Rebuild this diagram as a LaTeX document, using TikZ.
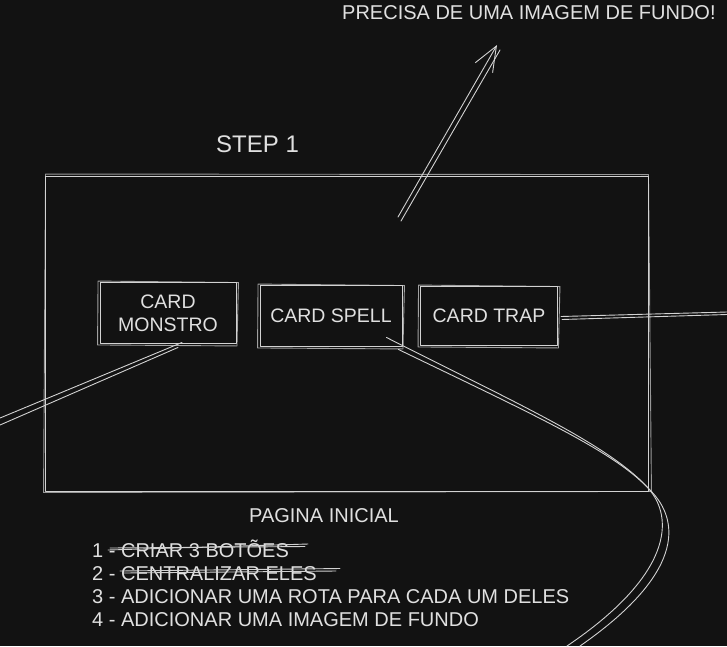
\documentclass[tikz,border=0pt]{standalone}
\usepackage{fontspec}
\setmainfont{Liberation Sans}
\usetikzlibrary{arrows.meta}
\definecolor{bg}{HTML}{121212}
\definecolor{ink}{HTML}{D2D2D2}
\definecolor{txt}{HTML}{E0E0E0}
\newcommand\sketchover[1]{%
  \draw[stroke,opacity=0.75] ([shift={(-1.5,-1)}]#1.north west) -- ([shift={(2,0.5)}]#1.north east)
    -- ([shift={(0.5,2)}]#1.south east) -- ([shift={(-2,1)}]#1.south west) -- cycle;}
\begin{document}
\begin{tikzpicture}[x=1pt,y=-1pt,
  every node/.style={text=txt,font=\fontsize{19.5}{23}\selectfont,inner sep=0pt},
  stroke/.style={draw=ink,line width=0.9pt,line cap=round,line join=round},
  cardbox/.style={stroke,rectangle,align=center},
  txtleft/.style={anchor=base west},
  bigtxt/.style={font=\fontsize{20}{23}\selectfont},
]
\fill[bg] (0,0) rectangle (727,646);
\useasboundingbox (0,0) rectangle (727,646);

% frame
\node[stroke,minimum width=603pt,minimum height=315pt] (frame) at (346.5,333.5) {};
\draw[stroke,opacity=0.7] ([shift={(1,-1.5)}]frame.north west) -- ([shift={(0,-1)}]frame.north east)
  -- ([shift={(3,0)}]frame.south east) -- ([shift={(-1,1)}]frame.south west) -- cycle;

% cards
\node[cardbox,minimum width=136pt,minimum height=61pt] (mon) at (168,313) {CARD\\MONSTRO};
\node[cardbox,minimum width=142pt,minimum height=61pt] (spell) at (331,316) {CARD SPELL};
\node[cardbox,minimum width=137pt,minimum height=59pt] (trap) at (489,316) {CARD TRAP};
\sketchover{mon}
\sketchover{spell}
\sketchover{trap}

% texts
\node[txtleft,bigtxt] (precisa) at (342,19) {PRECISA DE UMA IMAGEM DE FUNDO!};
\node[txtleft,font=\fontsize{24}{28}\selectfont] (step) at (216,152) {STEP 1};
\node[anchor=base,bigtxt] (pagina) at (324,522) {PAGINA INICIAL};
\node[txtleft,bigtxt] (l1) at (92,557) {1 - CRIAR 3 BOTÕES};
\node[txtleft,bigtxt] (l2) at (92,580) {2 - CENTRALIZAR ELES};
\node[txtleft,bigtxt] (l3) at (92,603) {3 - ADICIONAR UMA ROTA PARA CADA UM DELES};
\node[txtleft,bigtxt] (l4) at (92,626) {4 - ADICIONAR UMA IMAGEM DE FUNDO};

% strike-throughs
\draw[stroke] (108,550) -- (308,544);
\draw[stroke] (110,548) -- (305,546.5);
\draw[stroke] (120,571) -- (340,568.5);
\draw[stroke] (124,573) -- (336,571);

% arrow to the note
\coordinate (upTail) at (398,217);
\coordinate (upTailB) at (401,221);
\coordinate (upHead) at (497,45);
\coordinate (upHeadB) at (500,50);
\draw[stroke,-{Straight Barb[length=25pt,width=20pt]}] (upTail) -- (upHead);
\draw[stroke] (upTailB) -- (upHeadB);

% line from card trap
\coordinate (trapOutA) at (727,312);
\coordinate (trapOutB) at (727,314.5);
\draw[stroke] ([shift={(3,0.5)}]trap.east) -- (trapOutA);
\draw[stroke] ([shift={(4,3.5)}]trap.east) -- (trapOutB);

% line from card monstro
\coordinate (monOutA) at (0,418);
\coordinate (monOutB) at (0,425);
\draw[stroke] ([shift={(14,-1.5)}]mon.south) -- (monOutA);
\draw[stroke] ([shift={(10,3.5)}]mon.south) -- (monOutB);

% curve from card spell
\coordinate (spellOutA) at (580,646);
\coordinate (spellOutB) at (567,646);
\draw[stroke] ([shift={(-16,-9.5)}]spell.south east) .. controls (520,405) and (610,445) .. (650,490)
  .. controls (682,522) and (682,575) .. (spellOutA);
\draw[stroke] ([shift={(-4,2.5)}]spell.south east) .. controls (530,413) and (612,450) .. (648,488)
  .. controls (675,518) and (672,575) .. (spellOutB);
\end{tikzpicture}
\end{document}
